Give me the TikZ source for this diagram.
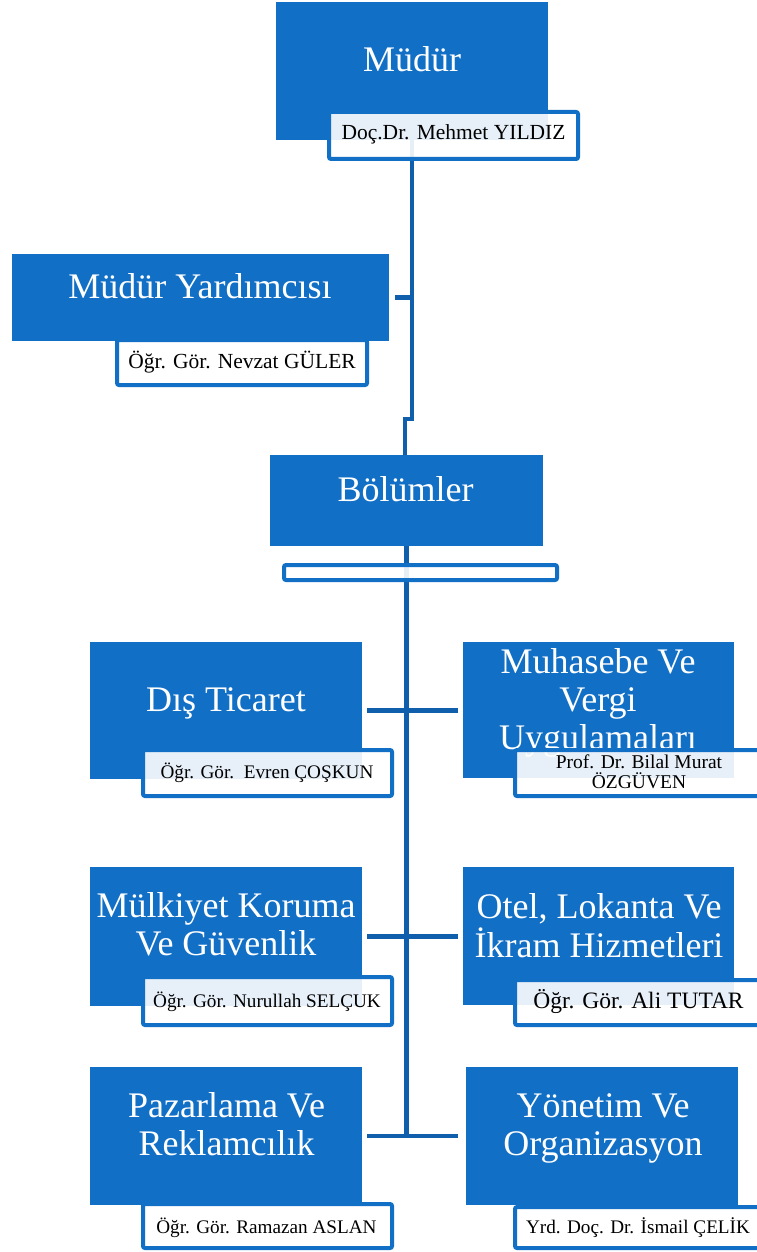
\documentclass[tikz,border=0pt]{standalone}
\usepackage{fontspec}
\setmainfont{Liberation Serif}
\definecolor{boxblue}{RGB}{17,111,198}
\definecolor{linkblue}{RGB}{16,95,172}
\tikzset{
  tbox/.style={rectangle, fill=boxblue, draw=none, inner sep=0pt},
  nbox/.style={rectangle, draw=boxblue, line width=4pt, rounded corners=2pt, fill=white, fill opacity=0.9, inner sep=0pt},
  ttl/.style={font=\fontsize{36}{38}\selectfont, text=white, anchor=base, inner sep=0pt},
  nm/.style={font=\fontsize{19.2}{20}\selectfont, text=black, anchor=base, inner sep=0pt},
  conn/.style={draw=linkblue, line width=4.5pt}
}
\begin{document}
\begin{tikzpicture}[x=1pt,y=-1pt]
\fill[white] (0,0) rectangle (756,1252);
\useasboundingbox (0,0) rectangle (756,1252);

% title boxes (positions only, drawn later after connectors)
\path
  node[tbox, minimum width=272pt, minimum height=138pt] (mudur) at (412,71) {}
  node[tbox, minimum width=377pt, minimum height=87pt] (yard) at (200.5,297.5) {}
  node[tbox, minimum width=273pt, minimum height=91pt] (bolum) at (406.5,500.5) {}
  node[tbox, minimum width=272pt, minimum height=137pt] (dis) at (226,710.5) {}
  node[tbox, minimum width=271pt, minimum height=136pt] (muh) at (598.5,710) {}
  node[tbox, minimum width=272pt, minimum height=139pt] (mulk) at (226,936.5) {}
  node[tbox, minimum width=271pt, minimum height=138pt] (otel) at (598.5,936) {}
  node[tbox, minimum width=272pt, minimum height=138pt] (paz) at (226,1136) {}
  node[tbox, minimum width=272pt, minimum height=138pt] (yon) at (602,1136) {};

% connectors
\coordinate (j1) at (412,419);
\coordinate (j2) at (405,419);
\draw[conn] (mudur.south) -- (j1) -- (j2) -- (j2 |- bolum.north);
\draw[conn] ([xshift=6pt]yard.east) -- (yard.east -| mudur.south);
\coordinate (tend) at (406.5,1136);
\draw[conn] (bolum.south) -- (tend);
\draw[conn] ([xshift=5pt]dis.east) -- ([xshift=-5pt]dis.east -| muh.west);
\draw[conn] ([xshift=5pt]mulk.east) -- ([xshift=-5pt]mulk.east -| otel.west);
\draw[conn] ([xshift=5pt]paz.east) -- ([xshift=-8pt]paz.east -| yon.west);

% redraw title boxes above connectors
\foreach \n in {mudur,yard,bolum,dis,muh,mulk,otel,paz,yon}{
  \fill[boxblue] (\n.north west) rectangle (\n.south east);
}

% title texts
\node[ttl] (tmudur) at (412,72) {Müdür};
\node[ttl] (tyard) at (200,298) {Müdür Yardımcısı};
\node[ttl] (tbolum) at (405.5,501) {Bölümler};
\node[ttl] (tdis) at (226,711) {Dış Ticaret};
\node[ttl] (tmuh1) at (598,673) {Muhasebe Ve};
\node[ttl] (tmuh2) at (598,711) {Vergi};
\node[ttl] (tmuh3) at (598,749) {Uygulamaları};
\node[ttl] (tmulk1) at (226,917) {Mülkiyet Koruma};
\node[ttl] (tmulk2) at (226,955) {Ve Güvenlik};
\node[ttl] (totel1) at (599,918) {Otel, Lokanta Ve};
\node[ttl] (totel2) at (599,957) {İkram Hizmetleri};
\node[ttl] (tpaz1) at (226.5,1117) {Pazarlama Ve};
\node[ttl] (tpaz2) at (226.5,1155) {Reklamcılık};
\node[ttl] (tyon1) at (603,1117) {Yönetim Ve};
\node[ttl] (tyon2) at (603,1155) {Organizasyon};

% name boxes
\node[nbox, minimum width=249pt, minimum height=47pt] (nmudur) at (453.5,135.5) {};
\node[nbox, minimum width=250pt, minimum height=45pt] (nyard) at (242,362.5) {};
\node[nbox, minimum width=273pt, minimum height=15pt] (bar) at (420.5,572.5) {};
\node[nbox, minimum width=249pt, minimum height=46pt] (ndis) at (267.5,773) {};
\node[nbox, minimum width=248pt, minimum height=46pt] (nmuh) at (639,773) {};
\node[nbox, minimum width=249pt, minimum height=48pt] (nmulk) at (267.5,1001) {};
\node[nbox, minimum width=248pt, minimum height=45pt] (notel) at (639,1002.5) {};
\node[nbox, minimum width=249pt, minimum height=44pt] (npaz) at (267.5,1226) {};
\node[nbox, minimum width=248pt, minimum height=41pt] (nyon) at (639,1227.5) {};

% name texts
\node[nm, font=\fontsize{21.5}{22}\selectfont] (xmudur) at (453.5,140) {Doç.Dr. Mehmet YILDIZ};
\node[nm, font=\fontsize{21.5}{22}\selectfont] (xyard) at (242,368) {Öğr. Gör. Nevzat GÜLER};
\node[nm] (xdis) at (267,778) {Öğr. Gör.\ \ Evren ÇOŞKUN};
\node[nm, font=\fontsize{19.5}{20}\selectfont] (xmuh1) at (639,768) {Prof. Dr. Bilal Murat};
\node[nm, font=\fontsize{19.5}{20}\selectfont] (xmuh2) at (639,788) {ÖZGÜVEN};
\node[nm] (xmulk) at (267,1007) {Öğr. Gör. Nurullah SELÇUK};
\node[nm, font=\fontsize{23.5}{24}\selectfont] (xotel) at (638.5,1008) {Öğr. Gör. Ali TUTAR};
\node[nm] (xpaz) at (266.5,1233) {Öğr. Gör. Ramazan ASLAN};
\node[nm] (xyon) at (638,1233) {Yrd. Doç. Dr. İsmail ÇELİK};
\end{tikzpicture}
\end{document}
